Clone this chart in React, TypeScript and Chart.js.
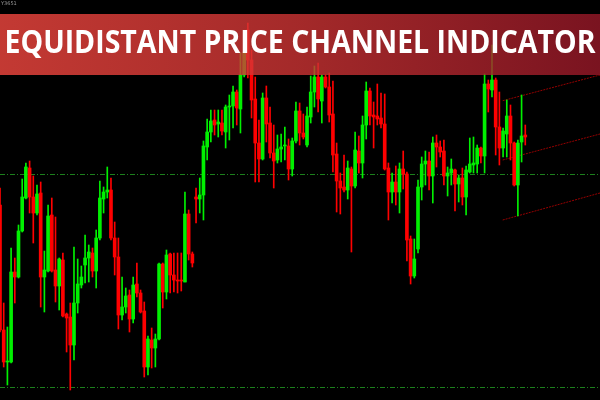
import { useEffect, useRef } from "react";
import { Chart, registerables } from "chart.js";

Chart.register(...registerables);

const TITLE = "EQUIDISTANT PRICE CHANNEL INDICATOR";
const SYMBOL_LABEL = "Y3651";

const OPEN = [
  195, 70, 38, 38, 128, 123, 169, 202, 232, 203,
  187, 207, 123, 129, 185, 130, 114, 140, 86, 83,
  55, 97, 115, 135, 142, 147, 129, 162, 201, 208,
  210, 162, 143, 85, 93, 105, 81, 116, 107, 89,
  33, 60, 52, 61, 136, 108, 146, 125, 120, 120,
  118, 186, 146, 203, 201, 205, 253, 268, 280, 276,
  277, 268, 293, 294, 308, 291, 325, 370, 340, 301,
  257, 241, 302, 277, 247, 240, 251, 254, 254, 231,
  259, 289, 267, 255, 283, 308, 323, 299, 323, 313,
  286, 246, 219, 213, 210, 231, 214, 249, 237, 275,
  309, 285, 284, 282, 276, 232, 208, 218, 208, 231,
  226, 161, 124, 151, 213, 236, 239, 224, 257, 253,
  249, 224, 227, 230, 216, 222, 203, 228, 235, 236,
  252, 244, 316, 310, 320, 273, 252, 266, 284, 257,
  215, 258, 265,
];

const HIGH = [
  212, 97, 73, 152, 142, 175, 221, 237, 239, 224,
  215, 218, 149, 195, 202, 183, 142, 147, 87, 97,
  153, 141, 134, 165, 155, 152, 170, 219, 213, 233,
  222, 178, 162, 123, 112, 110, 123, 137, 110, 98,
  64, 72, 66, 137, 137, 150, 147, 147, 147, 147,
  208, 190, 148, 212, 222, 259, 281, 290, 290, 290,
  290, 295, 305, 314, 310, 347, 358, 377, 350, 323,
  280, 307, 314, 293, 275, 265, 266, 273, 261, 262,
  298, 297, 286, 293, 324, 334, 337, 325, 325, 327,
  319, 257, 227, 245, 239, 233, 268, 264, 284, 318,
  312, 298, 316, 307, 306, 237, 227, 234, 237, 249,
  228, 164, 161, 220, 243, 249, 248, 263, 265, 259,
  260, 233, 241, 231, 225, 232, 234, 262, 263, 255,
  253, 326, 320, 355, 322, 308, 272, 300, 295, 258,
  260, 305, 275,
];

const LOW = [
  68, 33, 15, 37, 97, 122, 168, 201, 187, 157,
  185, 93, 88, 128, 128, 98, 90, 83, 48, 10,
  40, 87, 112, 117, 118, 123, 112, 160, 187, 202,
  160, 125, 71, 80, 87, 68, 77, 103, 87, 23,
  25, 32, 33, 60, 92, 101, 107, 108, 107, 109,
  118, 140, 133, 177, 187, 180, 240, 258, 265, 263,
  265, 252, 260, 272, 275, 267, 323, 322, 282, 218,
  218, 240, 258, 242, 212, 237, 238, 240, 220, 224,
  257, 255, 261, 253, 277, 293, 288, 277, 312, 278,
  228, 188, 186, 208, 201, 148, 212, 227, 222, 261,
  275, 252, 275, 272, 230, 180, 197, 195, 187, 211,
  139, 116, 122, 147, 200, 215, 210, 197, 233, 243,
  215, 204, 215, 189, 198, 195, 185, 227, 227, 227,
  237, 227, 288, 303, 245, 235, 243, 243, 240, 214,
  184, 238, 255,
];

const CLOSE = [
  70, 38, 39, 128, 123, 169, 203, 233, 203, 187,
  206, 123, 130, 184, 129, 114, 141, 84, 82, 55,
  97, 116, 123, 142, 148, 129, 162, 202, 208, 210,
  162, 143, 85, 93, 104, 81, 115, 107, 88, 33,
  61, 52, 61, 136, 108, 145, 125, 120, 119, 119,
  186, 146, 137, 201, 205, 254, 268, 279, 275, 278,
  269, 293, 294, 308, 292, 325, 348, 340, 300, 257,
  241, 302, 276, 247, 239, 251, 253, 255, 231, 259,
  289, 267, 263, 284, 308, 323, 301, 323, 313, 285,
  245, 219, 212, 210, 232, 214, 250, 237, 275, 309,
  284, 283, 281, 276, 231, 208, 218, 208, 231, 226,
  160, 124, 141, 213, 236, 239, 224, 257, 253, 248,
  224, 227, 231, 216, 222, 203, 230, 236, 237, 252,
  244, 316, 311, 320, 273, 252, 269, 284, 257, 215,
  257, 264, 263,
];

// horizontal levels (dash-dot green)
const LEVELS = [225.5, 12.5];

// equidistant channel (start index, end index, start/end prices)
const CHANNEL_X = [135.9, 162.2];
const CHANNEL_UPPER = [299.3, 325];
const CHANNEL_MIDDLE = [240, 266];
const CHANNEL_LOWER = [180, 207];

const X_MIN = 0;
const X_MAX = 162.2;
const Y_MIN = 0;
const Y_MAX = 400;

const UP = "#00f000";
const DOWN = "#ff0000";

export default function App() {
  const ref = useRef<HTMLCanvasElement | null>(null);

  useEffect(() => {
    const canvas = ref.current;
    if (!canvas) return;

    const colors = OPEN.map((o, i) => (CLOSE[i] >= o ? UP : DOWN));

    const overlay = {
      id: "overlay",
      beforeDraw(chart: any) {
        const ctx = chart.ctx;
        ctx.save();
        ctx.fillStyle = "#000";
        ctx.fillRect(0, 0, chart.width, chart.height);
        ctx.restore();
      },
      afterDraw(chart: any) {
        const ctx = chart.ctx;
        const W = chart.width;
        ctx.save();
        const g = ctx.createLinearGradient(0, 0, W, 0);
        g.addColorStop(0, "rgba(244,72,64,0.8)");
        g.addColorStop(0.5, "rgba(205,52,52,0.8)");
        g.addColorStop(1, "rgba(152,24,40,0.8)");
        ctx.fillStyle = g;
        ctx.fillRect(0, 14, W, 61);

        ctx.font = '700 32px "Open Sans"';
        ctx.fillStyle = "#ffffff";
        ctx.textBaseline = "alphabetic";
        const w = ctx.measureText(TITLE).width;
        const s = 591 / w;
        ctx.translate(4.5, 53);
        ctx.scale(s, 1);
        ctx.fillText(TITLE, 0, 0);
        ctx.restore();

        ctx.save();
        ctx.font = '5px "DejaVu Sans"';
        ctx.fillStyle = "#9a9a9a";
        ctx.textBaseline = "top";
        ctx.fillText(SYMBOL_LABEL, 1, 1);
        ctx.restore();
      },
    };

    const lineDs = (xs: number[], ys: number[], color: string, dash: number[]) => ({
      type: "line" as const,
      data: xs.map((x, i) => ({ x, y: ys[i] })),
      borderColor: color,
      borderWidth: 1,
      borderDash: dash,
      pointRadius: 0,
      fill: false,
      order: 3,
    });

    const chart = new Chart(canvas, {
      type: "bar",
      data: {
        datasets: [
          ...LEVELS.map((lv) =>
            lineDs([X_MIN, X_MAX], [lv, lv], "rgb(28,128,28)", [5, 2, 1, 2])
          ),
          lineDs(CHANNEL_X, CHANNEL_UPPER, "rgb(150,0,0)", [2, 1]),
          lineDs(CHANNEL_X, CHANNEL_MIDDLE, "rgb(150,0,0)", [2, 1]),
          lineDs(CHANNEL_X, CHANNEL_LOWER, "rgb(150,0,0)", [2, 1]),
          {
            type: "bar",
            data: OPEN.map((_, i) => ({ x: i, y: [LOW[i], HIGH[i]] })),
            backgroundColor: colors,
            borderWidth: 0,
            barThickness: 1,
            grouped: false,
            order: 2,
          } as any,
          {
            type: "bar",
            data: OPEN.map((o, i) => ({
              x: i,
              y: [Math.min(o, CLOSE[i]), Math.max(o, CLOSE[i])],
            })),
            backgroundColor: colors,
            borderWidth: 0,
            barThickness: 3,
            minBarLength: 1,
            grouped: false,
            order: 1,
          } as any,
        ],
      },
      options: {
        animation: false,
        responsive: false,
        maintainAspectRatio: false,
        layout: { padding: 0 },
        plugins: {
          legend: { display: false },
          tooltip: { enabled: false },
          title: { display: false },
        },
        scales: {
          x: {
            type: "linear",
            min: X_MIN,
            max: X_MAX,
            offset: false,
            display: false,
          },
          y: {
            type: "linear",
            min: Y_MIN,
            max: Y_MAX,
            display: false,
          },
        },
      },
      plugins: [overlay],
    });

    return () => chart.destroy();
  }, []);

  return (
    <div
      style={{
        position: "fixed",
        left: 0,
        top: 0,
        width: 600,
        height: 400,
        background: "#000",
      }}
    >
      <canvas ref={ref} width={600} height={400} style={{ display: "block" }} />
    </div>
  );
}
